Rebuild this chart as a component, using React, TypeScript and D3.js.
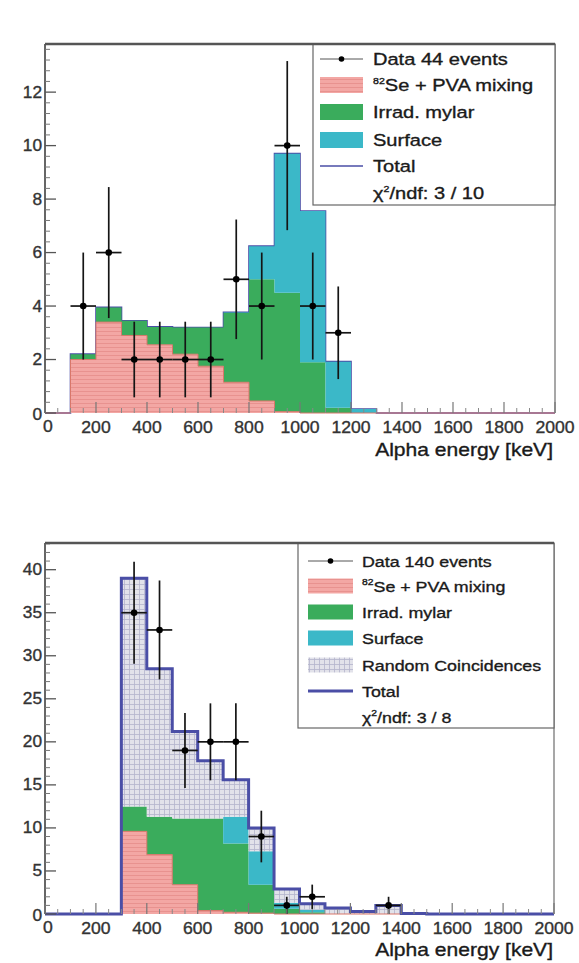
import React from 'react';
import * as d3 from 'd3';

const FONT = '"Liberation Sans", Arial, Helvetica, sans-serif';

// lower edges of the 100 keV bins
const binLow = [0, 100, 200, 300, 400, 500, 600, 700, 800, 900, 1000, 1100, 1200, 1300, 1400, 1500, 1600, 1700, 1800, 1900];
const binWidth = 100;
const xTickLabels = [0, 200, 400, 600, 800, 1000, 1200, 1400, 1600, 1800, 2000];

// upper panel
const topSePva = [0, 2.0, 3.4, 2.9, 2.55, 2.2, 1.75, 1.15, 0.45, 0.05, 0, 0, 0, 0, 0, 0, 0, 0, 0, 0];
const topMylar = [0, 0.2, 0.55, 0.55, 0.67, 1.0, 1.45, 2.6, 4.55, 4.45, 1.9, 0.2, 0, 0, 0, 0, 0, 0, 0, 0];
const topSurface = [0, 0, 0, 0, 0, 0, 0, 0.02, 1.24, 5.2, 5.65, 1.72, 0.15, 0, 0, 0, 0, 0, 0, 0];
const topCounts = [0, 4, 6, 2, 2, 2, 2, 5, 4, 10, 4, 3, 0, 0, 0, 0, 0, 0, 0, 0];
const topYTicks = [0, 2, 4, 6, 8, 10, 12];

// lower panel
const botSePva = [0, 0, 0, 9.6, 6.9, 3.4, 0.4, 0.2, 0.1, 0, 0, 0, 0, 0, 0, 0, 0, 0, 0, 0];
const botMylar = [0, 0, 0, 2.9, 4.4, 7.7, 10.7, 8.0, 3.3, 0.6, 0.2, 0, 0, 0, 0, 0, 0, 0, 0, 0];
const botSurface = [0, 0, 0, 0, 0, 0, 0, 3.1, 3.9, 0.7, 0.3, 0, 0, 0, 0, 0, 0, 0, 0, 0];
const botRandom = [0, 0, 0, 26.5, 17.2, 10.1, 6.7, 4.3, 2.7, 1.6, 0.7, 0.7, 0.3, 1.0, 0.05, 0, 0, 0, 0, 0];
const botCounts = [0, 0, 0, 35, 33, 19, 20, 20, 9, 1, 2, 0, 0, 1, 0, 0, 0, 0, 0, 0];
const botYTicks = [0, 5, 10, 15, 20, 25, 30, 35, 40];

const PINK = '#f3a7a4';
const GREEN = '#3aac5c';
const CYAN = '#3bb8c8';
const TOTAL = '#4a4ea6';

// the original lettering is a little wide, so text gets stretched sideways
const SText: React.FC<{ x: number; y: number; size: number; sx?: number; anchor?: string; fill?: string; children: React.ReactNode }> = ({
  x,
  y,
  size,
  sx = 1.17,
  anchor = 'start',
  fill = '#1a1a1a',
  children,
}) => (
  <text
    transform={`translate(${x},${y}) scale(${sx},1)`}
    textAnchor={anchor}
    fontSize={size}
    fill={fill}
    stroke={fill}
    strokeWidth={0.35}
    fontFamily={FONT}
  >
    {children}
  </text>
);

type Layer = { values: number[]; fill: string };
type LegendRow = { kind: 'data' | 'fill' | 'line' | 'text'; label: React.ReactNode; fill?: string };

type PanelProps = {
  left: number;
  right: number;
  top: number;
  bottom: number;
  yMax: number;
  yTicks: number[];
  yMinor: number;
  layers: Layer[];
  counts: number[];
  totalWidth: number;
  totalOnTop: boolean;
  legend: { x0: number; y1: number; rows: number[]; symX: [number, number]; textX: number; font: number; sx: number; symH: number; entries: LegendRow[] };
  titleY: number;
};

const Panel: React.FC<PanelProps> = (p) => {
  const x = d3.scaleLinear().domain([0, 2000]).range([p.left, p.right]);
  const y = d3.scaleLinear().domain([0, p.yMax]).range([p.bottom, p.top]);
  const n = binLow.length;
  const idx = d3.range(n + 1);
  const edge = (i: number) => (i < n ? binLow[i] : binLow[n - 1] + binWidth);

  // cumulative stack
  const cum: number[][] = [];
  let base = binLow.map(() => 0);
  cum.push(base);
  p.layers.forEach((l) => {
    base = base.map((b, i) => b + l.values[i]);
    cum.push(base);
  });
  const total = cum[cum.length - 1];
  const val = (arr: number[], i: number) => arr[Math.min(i, n - 1)];

  const area = (lo: number[], hi: number[]) =>
    d3
      .area<number>()
      .x((i) => x(edge(i)))
      .y0((i) => y(val(lo, i)))
      .y1((i) => y(val(hi, i)))
      .curve(d3.curveStepAfter)(idx) || '';
  const line = (arr: number[]) =>
    d3
      .line<number>()
      .x((i) => x(edge(i)))
      .y((i) => y(val(arr, i)))
      .curve(d3.curveStepAfter)(idx) || '';

  const minorY = d3.range(0, p.yMax, p.yMinor).filter((v) => !p.yTicks.some((t) => Math.abs(t - v) < 1e-6));
  const minorX = d3.range(0, 2001, 50).filter((v) => v % 200 !== 0);

  const totalPath = <path d={line(total)} fill="none" stroke={TOTAL} strokeWidth={p.totalWidth} />;
  const lg = p.legend;

  return (
    <g>
      {!p.totalOnTop && totalPath}
      {p.layers.map((l, k) => (
        <path key={k} d={area(cum[k], cum[k + 1])} fill={l.fill} stroke="none" />
      ))}
      <path d={line(cum[1])} fill="none" stroke="#d9776a" strokeWidth={1} />
      {p.totalOnTop && totalPath}

      {/* data points */}
      {p.counts.map((c, i) =>
        c > 0 ? (
          <g key={i} stroke="#151515" strokeWidth={1.7}>
            <line x1={x(binLow[i] + binWidth / 2)} x2={x(binLow[i] + binWidth / 2)} y1={y(c - Math.sqrt(c))} y2={y(c + Math.sqrt(c))} />
            <line x1={x(binLow[i])} x2={x(binLow[i] + binWidth)} y1={y(c)} y2={y(c)} />
            <circle cx={x(binLow[i] + binWidth / 2)} cy={y(c)} r={3.3} fill="#000" stroke="none" />
          </g>
        ) : null,
      )}

      {/* frame */}
      <line x1={p.right} x2={p.right} y1={p.top} y2={p.bottom} stroke="#8a8a8a" strokeWidth={1.5} />
      <line x1={p.left} x2={p.left} y1={p.top} y2={p.bottom} stroke="#666" strokeWidth={2} />

      {/* y axis */}
      {p.yTicks.map((t) => (
        <g key={t}>
          <line x1={p.left} x2={p.left + 11} y1={y(t)} y2={y(t)} stroke="#555" strokeWidth={1.3} />
          <SText x={42} y={y(t) + (t === 0 ? 7 : 5.5)} size={16} sx={1.08} anchor="end" fill="#333">
            {t}
          </SText>
        </g>
      ))}
      {minorY.map((t) => (
        <line key={t} x1={p.left} x2={p.left + 5} y1={y(t)} y2={y(t)} stroke="#777" strokeWidth={1} />
      ))}

      {/* x axis */}
      {xTickLabels.map((t) => (
        <g key={t}>
          <line x1={x(t)} x2={x(t)} y1={p.bottom} y2={p.bottom - 11} stroke="#777" strokeWidth={1.2} />
          <SText x={x(t) + (t === 0 ? 3 : 0)} y={p.bottom + (t === 0 ? 19 : 20)} size={16} sx={1.1} anchor="middle" fill="#333">
            {t}
          </SText>
        </g>
      ))}
      {minorX.map((t) => (
        <line key={t} x1={x(t)} x2={x(t)} y1={p.bottom} y2={p.bottom - 5} stroke="#888" strokeWidth={1} />
      ))}
      <SText x={553} y={p.titleY} size={18} sx={1.17} anchor="end">
        Alpha energy [keV]
      </SText>

      {/* legend */}
      <rect x={lg.x0} y={p.top} width={p.right - lg.x0} height={lg.y1 - p.top} fill="#fff" stroke="#666" strokeWidth={1.2} />
      <line x1={p.left} x2={p.right} y1={p.top} y2={p.top} stroke="#555" strokeWidth={2.5} />
      {lg.entries.map((e, k) => {
        const cy = lg.rows[k];
        const [sx0, sx1] = lg.symX;
        return (
          <g key={k}>
            {e.kind === 'data' && (
              <g>
                <line x1={sx0} x2={sx1} y1={cy} y2={cy} stroke="#555" strokeWidth={1} />
                <circle cx={(sx0 + sx1) / 2} cy={cy} r={2.8} fill="#000" />
              </g>
            )}
            {e.kind === 'fill' && <rect x={sx0} y={cy - lg.symH / 2} width={sx1 - sx0} height={lg.symH} fill={e.fill} />}
            {e.kind === 'line' && <line x1={sx0} x2={sx1} y1={cy} y2={cy} stroke={TOTAL} strokeWidth={p.totalWidth} />}
            <SText x={lg.textX} y={cy + lg.font * 0.36} size={lg.font} sx={lg.sx}>
              {e.label}
            </SText>
          </g>
        );
      })}
    </g>
  );
};

const seLabel = (
  <>
    <tspan fontSize={9} dy={-7}>
      82
    </tspan>
    <tspan dy={7}>Se + PVA mixing</tspan>
  </>
);
const chiLabel = (text: string) => (
  <>
    χ
    <tspan fontSize={9} dy={-7}>
      2
    </tspan>
    <tspan dy={7}>{text}</tspan>
  </>
);

const App: React.FC = () => {
  return (
    <svg width={579} height={963} style={{ position: 'absolute', left: 0, top: 0, background: '#fff' }}>
      <defs>
        <pattern id="hatch" width={4} height={4} patternUnits="userSpaceOnUse">
          <rect width={4} height={4} fill={PINK} />
          <line x1={0} x2={4} y1={3.5} y2={3.5} stroke="#e48d8a" strokeWidth={0.8} />
        </pattern>
        <pattern id="grid" width={5} height={5} patternUnits="userSpaceOnUse">
          <rect width={5} height={5} fill="#e2e2ea" />
          <line x1={0} x2={5} y1={4.5} y2={4.5} stroke="#b4b4cc" strokeWidth={0.8} />
          <line x1={4.5} x2={4.5} y1={0} y2={5} stroke="#b4b4cc" strokeWidth={0.8} />
        </pattern>
      </defs>

      <Panel
        left={45}
        right={555}
        top={44}
        bottom={413}
        yMax={13.8}
        yTicks={topYTicks}
        yMinor={0.4}
        layers={[
          { values: topSePva, fill: 'url(#hatch)' },
          { values: topMylar, fill: GREEN },
          { values: topSurface, fill: CYAN },
        ]}
        counts={topCounts}
        totalWidth={1.6}
        totalOnTop={false}
        titleY={456}
        legend={{
          x0: 313,
          y1: 205,
          rows: [59, 85, 112, 140, 166, 193],
          symX: [320, 363],
          textX: 373,
          font: 17,
          sx: 1.18,
          symH: 16,
          entries: [
            { kind: 'data', label: 'Data 44 events' },
            { kind: 'fill', label: seLabel, fill: 'url(#hatch)' },
            { kind: 'fill', label: 'Irrad. mylar', fill: GREEN },
            { kind: 'fill', label: 'Surface', fill: CYAN },
            { kind: 'line', label: 'Total' },
            { kind: 'text', label: chiLabel('/ndf: 3 / 10') },
          ],
        }}
      />

      <Panel
        left={45}
        right={554}
        top={543}
        bottom={914}
        yMax={43.1}
        yTicks={botYTicks}
        yMinor={1}
        layers={[
          { values: botSePva, fill: 'url(#hatch)' },
          { values: botMylar, fill: GREEN },
          { values: botSurface, fill: CYAN },
          { values: botRandom, fill: 'url(#grid)' },
        ]}
        counts={botCounts}
        totalWidth={3}
        totalOnTop={true}
        titleY={956}
        legend={{
          x0: 298,
          y1: 728,
          rows: [561, 586, 612, 638, 665, 691, 717],
          symX: [308, 353],
          textX: 362,
          font: 15.5,
          sx: 1.15,
          symH: 15,
          entries: [
            { kind: 'data', label: 'Data 140 events' },
            { kind: 'fill', label: seLabel, fill: 'url(#hatch)' },
            { kind: 'fill', label: 'Irrad. mylar', fill: GREEN },
            { kind: 'fill', label: 'Surface', fill: CYAN },
            { kind: 'fill', label: 'Random Coincidences', fill: 'url(#grid)' },
            { kind: 'line', label: 'Total' },
            { kind: 'text', label: chiLabel('/ndf: 3 / 8') },
          ],
        }}
      />
    </svg>
  );
};

export default App;
